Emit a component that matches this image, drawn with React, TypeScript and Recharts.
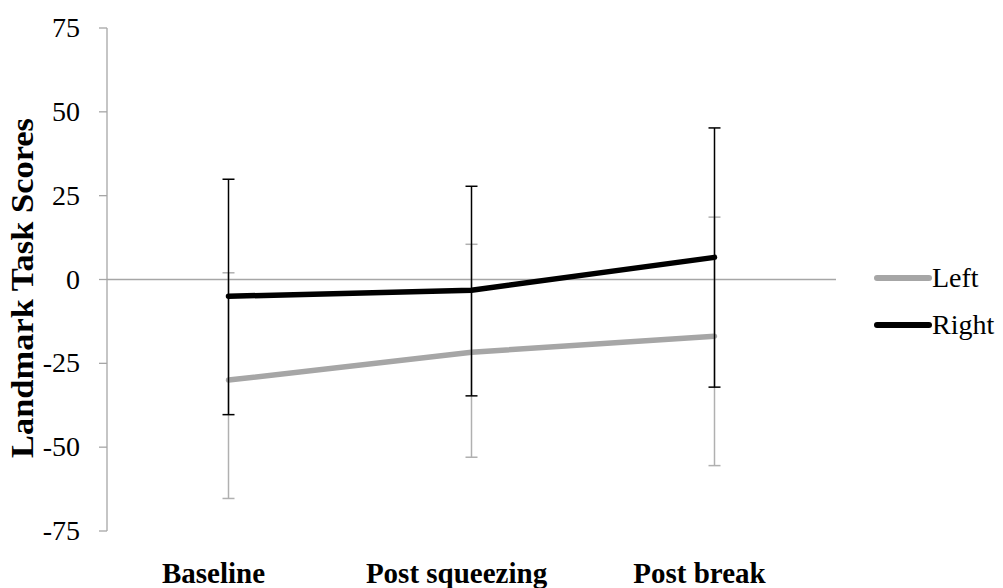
import React from 'react';
import { ComposedChart, Line, XAxis, YAxis, ErrorBar, ReferenceLine } from 'recharts';

const categories = ['Baseline', 'Post squeezing', 'Post break'];
const leftScores = [-30, -21.7, -16.9];
const rightScores = [-5, -3.2, 6.6];
// error bar deltas as [below, above]
const leftErrors = [[35.3, 32], [31.3, 32.2], [38.6, 35.5]];
const rightErrors = [[35.3, 34.9], [31.5, 31], [38.7, 38.6]];
const yTicks = [-75, -50, -25, 0, 25, 50, 75];

const GRAY = '#a6a6a6';
const FONT = "'Liberation Serif', 'Times New Roman', serif";

const series = [
  { key: 'left', name: 'Left', color: GRAY, errColor: '#b0b0b0' },
  { key: 'right', name: 'Right', color: '#000000', errColor: '#000000' },
];

const data = categories.map((name, i) => ({
  name,
  left: leftScores[i],
  right: rightScores[i],
  leftErr: leftErrors[i],
  rightErr: rightErrors[i],
}));

const CategoryTick = (props: any) => {
  const { x, payload } = props;
  return (
    <text x={x - 15} y={583} textAnchor="middle" style={{ fontFamily: FONT, fontSize: 29, fontWeight: 'bold' }} fill="#000">
      {payload.value}
    </text>
  );
};

const ValueTick = (props: any) => {
  const { x, y, payload } = props;
  return (
    <text x={x} y={y + 9} textAnchor="end" style={{ fontFamily: FONT, fontSize: 28 }} fill="#000">
      {payload.value}
    </text>
  );
};

const YTitle = () => (
  <text
    x={33}
    y={288}
    transform="rotate(-90, 33, 288)"
    textAnchor="middle"
    textLength={340}
    lengthAdjust="spacingAndGlyphs"
    style={{ fontFamily: FONT, fontSize: 31, fontWeight: 'bold' }}
    fill="#000"
  >
    Landmark Task Scores
  </text>
);

const App: React.FC = () => {
  return (
    <div style={{ position: 'absolute', left: 0, top: 0, width: 1003, height: 588, background: '#fff' }}>
      <ComposedChart width={1003} height={588} data={data} margin={{ top: 28, right: 167, left: 0, bottom: 0 }}>
        <XAxis dataKey="name" scale="band" axisLine={false} tickLine={false} height={57} tick={<CategoryTick />} interval={0} />
        <YAxis
          domain={[-75, 75]}
          ticks={yTicks}
          width={107}
          axisLine={{ stroke: GRAY, strokeWidth: 1.3 }}
          tickLine={{ stroke: GRAY, strokeWidth: 1.3 }}
          tickSize={8}
          tickMargin={19}
          tick={<ValueTick />}
          label={<YTitle />}
        />
        <ReferenceLine y={0} stroke={GRAY} strokeWidth={1.5} />
        {series.map((s) => (
          <Line
            key={s.key}
            dataKey={s.key}
            name={s.name}
            stroke={s.color}
            strokeWidth={5.5}
            strokeLinecap="round"
            dot={false}
            activeDot={false}
            isAnimationActive={false}
          >
            <ErrorBar
              dataKey={s.key + 'Err'}
              direction="y"
              width={6}
              stroke={s.errColor}
              strokeWidth={1.5}
              isAnimationActive={false}
            />
          </Line>
        ))}
      </ComposedChart>
      <div style={{ position: 'absolute', left: 872, top: 254, fontFamily: FONT, fontSize: 28 }}>
        {series.map((s) => (
          <div key={s.key} style={{ display: 'flex', alignItems: 'center', height: 47 }}>
            <svg width={60} height={10}>
              <line x1={5} y1={5} x2={57} y2={5} stroke={s.color} strokeWidth={6} strokeLinecap="round" />
            </svg>
            <span style={{ lineHeight: '47px' }}>{s.name}</span>
          </div>
        ))}
      </div>
    </div>
  );
};

export default App;
